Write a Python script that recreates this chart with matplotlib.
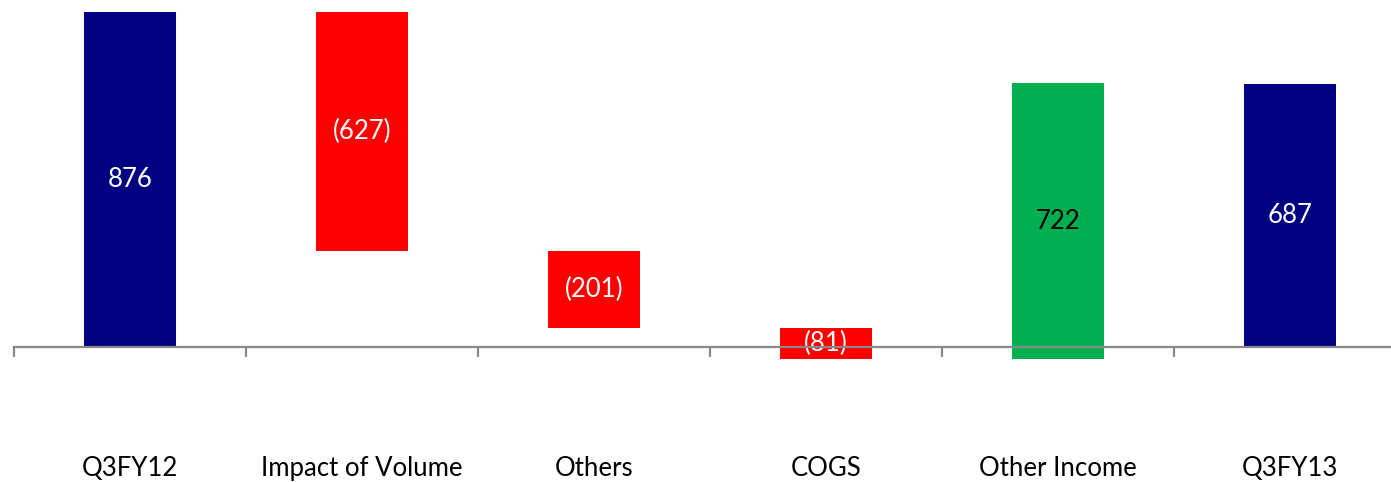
import numpy as np
import matplotlib.pyplot as plt

# Brücke Q3FY12 -> Q3FY13
kategorien = ["Q3FY12", "Impact of Volume", "Others", "COGS", "Other Income", "Q3FY13"]
werte = [876, -627, -201, -81, 722, 687]
ist_summe = [True, False, False, False, False, True]

farbe_summe = "#000080"
farbe_minus = "#FF0000"
farbe_plus = "#00B050"

plt.rcParams["font.family"] = ["Lato", "DejaVu Sans"]

# Start- und Endwerte der Balken bestimmen
unten = []
oben = []
stand = 0
for w, s in zip(werte, ist_summe):
    if s:
        unten.append(0)
        oben.append(w)
        stand = w
    else:
        unten.append(stand)
        stand = stand + w
        oben.append(stand)

fig = plt.figure(figsize=(13.91, 4.82), dpi=100)
ax = fig.add_axes([14 / 1391, 0, 1392 / 1391, 1])

x = np.arange(len(kategorien))
for i, w in enumerate(werte):
    if ist_summe[i]:
        farbe = farbe_summe
    elif w < 0:
        farbe = farbe_minus
    else:
        farbe = farbe_plus
    lo = min(unten[i], oben[i])
    hoehe = abs(oben[i] - unten[i])
    ax.bar(x[i], hoehe, bottom=lo, width=0.4, color=farbe, zorder=1)
    text = f"({abs(w)})" if w < 0 else f"{w}"
    textfarbe = "black" if farbe == farbe_plus else "white"
    ax.text(x[i], lo + hoehe / 2, text, ha="center", va="center",
            fontsize=18.5, color=textfarbe, zorder=2)

ax.set_xlim(-0.5, len(kategorien) - 0.5)
ax.set_ylim(-354.3, 906.1)

for sp in ["top", "right", "left"]:
    ax.spines[sp].set_visible(False)
ax.spines["bottom"].set_position(("data", 0))
ax.spines["bottom"].set_color("#898989")
ax.spines["bottom"].set_linewidth(1.6)
ax.spines["bottom"].set_zorder(3)
ax.set_yticks([])

# Striche an den Kategoriegrenzen, Beschriftung in der Mitte
ax.set_xticks(np.arange(len(kategorien) + 1) - 0.5)
ax.set_xticklabels([])
ax.tick_params(axis="x", which="major", length=7, width=1.6, color="#898989", direction="out")
ax.set_xticks(x, minor=True)
ax.set_xticklabels(kategorien, minor=True, fontsize=18.5)
ax.tick_params(axis="x", which="minor", length=0, pad=79)

fig.savefig("out.png", dpi=100)
